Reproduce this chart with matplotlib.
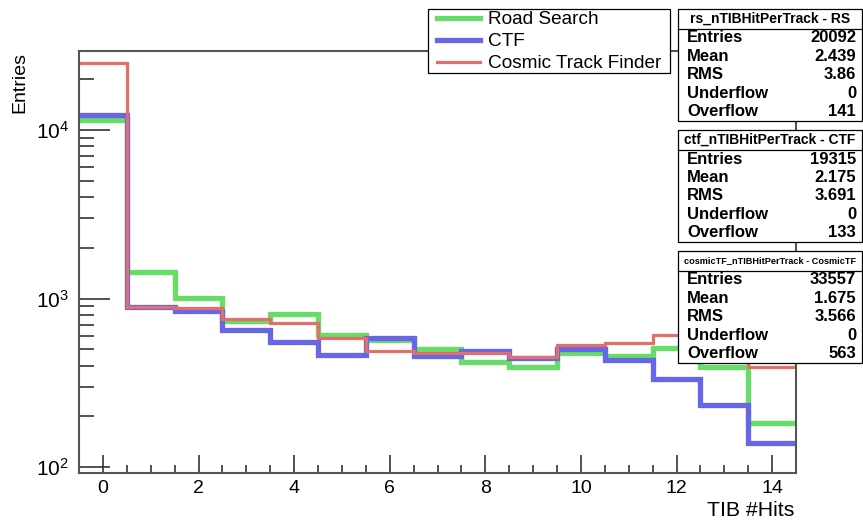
import numpy as np
import matplotlib
matplotlib.use('Agg')
import matplotlib.pyplot as plt
from matplotlib.patches import Rectangle
from matplotlib.lines import Line2D

plt.rcParams['font.family'] = ['Liberation Sans', 'DejaVu Sans']

# histogram contents, one entry per bin (TIB hits 0..14)
hits = np.arange(15)
road_search = [11460, 1430, 1003, 738, 806, 605, 567, 500, 422, 394, 477, 456, 506, 391, 182]
ctf = [12300, 890, 843, 650, 555, 462, 585, 456, 488, 442, 501, 431, 333, 233, 139]
cosmic_tf = [24900, 895, 875, 753, 713, 585, 490, 473, 473, 452, 530, 545, 607, 560, 394]

series_names = ['Road Search', 'CTF', 'Cosmic Track Finder']
colors = ['#66dd66', '#6666e6', '#e2706a']
widths = [3.8, 3.8, 2.3]

stat_titles = ['rs_nTIBHitPerTrack - RS', 'ctf_nTIBHitPerTrack - CTF',
               'cosmicTF_nTIBHitPerTrack - CosmicTF']
stat_labels = ['Entries', 'Mean', 'RMS', 'Underflow', 'Overflow']
stat_values = [['20092', '2.439', '3.86', '0', '141'],
               ['19315', '2.175', '3.691', '0', '133'],
               ['33557', '1.675', '3.566', '0', '563']]

W, H = 863, 520
fig = plt.figure(figsize=(W / 100, H / 100), dpi=100)


def fx(x):
    return x / W


def fy(y):
    return 1 - y / H


ax = fig.add_axes([fx(79), fy(473), fx(796) - fx(79), fy(51) - fy(473)])
edges = np.append(hits - 0.5, hits[-1] + 0.5)
for vals, c, lw in zip([road_search, ctf, cosmic_tf], colors, widths):
    ax.stairs(vals, edges, baseline=None, color=c, linewidth=lw)

ax.set_yscale('log')
ax.set_xlim(-0.5, 14.5)
ax.set_ylim(92, 29500)
ax.set_xticks(np.arange(0, 15, 2))
ax.set_xticks(np.arange(-0.5, 14.6, 0.5), minor=True)
for s in ax.spines.values():
    s.set_color('#555555')
    s.set_linewidth(1.5)
ax.tick_params(which='both', direction='in', top=False, right=False, color='#333333')
ax.tick_params(axis='x', which='major', length=13, width=1.2, pad=5, labelsize=14)
ax.tick_params(axis='x', which='minor', length=6, width=1.2)
ax.tick_params(axis='y', which='major', length=22, width=1.2, pad=7, labelsize=15)
ax.tick_params(axis='y', which='minor', length=11, width=1.2)

fig.text(fx(794), fy(510), 'TIB #Hits', ha='right', va='center', fontsize=15.3)
fig.text(fx(20), fy(52), 'Entries', ha='center', va='top', rotation=90, fontsize=14)

# legend box
fig.add_artist(Rectangle((fx(428), fy(73)), fx(670) - fx(428), fy(9) - fy(73),
                         transform=fig.transFigure, facecolor='white',
                         edgecolor='black', linewidth=0.9, zorder=5))
for i, (name, c, lw) in enumerate(zip(series_names, colors, widths)):
    yy = fy(18 + i * 22)
    fig.add_artist(Line2D([fx(437), fx(480)], [yy, yy], color=c, linewidth=lw,
                          transform=fig.transFigure, zorder=6))
    fig.text(fx(488), yy, name, ha='left', va='center_baseline', fontsize=13.7, zorder=6)

# statistics boxes
box_tops = [9, 130, 251]
title_sizes = [10, 10, 6.6]
for top, title, tsize, vals in zip(box_tops, stat_titles, title_sizes, stat_values):
    fig.add_artist(Rectangle((fx(678), fy(top + 112)), fx(862) - fx(678), fy(top) - fy(top + 112),
                             transform=fig.transFigure, facecolor='white',
                             edgecolor='black', linewidth=0.9, zorder=5))
    fig.add_artist(Line2D([fx(678), fx(862)], [fy(top + 20), fy(top + 20)], color='black',
                          linewidth=0.9, transform=fig.transFigure, zorder=6))
    fig.text(fx(770), fy(top + 10), title, ha='center', va='center', fontsize=tsize,
             fontweight='bold', zorder=6)
    for j, (lab, v) in enumerate(zip(stat_labels, vals)):
        yy = fy(top + 29 + j * 18.4)
        fig.text(fx(687), yy, lab, ha='left', va='center', fontsize=12,
                 fontweight='bold', zorder=6)
        fig.text(fx(856), yy, v, ha='right', va='center', fontsize=12,
                 fontweight='bold', zorder=6)

fig.savefig('out.png', dpi=100)
